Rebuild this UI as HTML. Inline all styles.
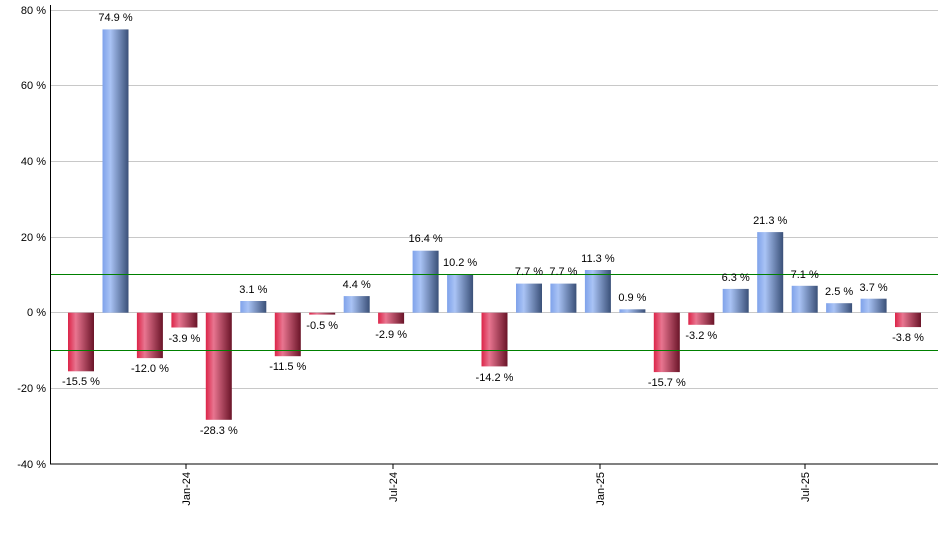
<!DOCTYPE html>
<html><head><style>body{margin:0;background:#fff}svg{display:block;font-family:"Liberation Sans",sans-serif}</style></head><body>
<svg width="940" height="550" xmlns="http://www.w3.org/2000/svg">
<defs>
<linearGradient id="b" x1="0" x2="1" y1="0" y2="0"><stop offset="0" stop-color="#7fa2ea"/><stop offset="0.3" stop-color="#a9c3f5"/><stop offset="1" stop-color="#3a5078"/></linearGradient>
<linearGradient id="r" x1="0" x2="1" y1="0" y2="0"><stop offset="0" stop-color="#dc2448"/><stop offset="0.3" stop-color="#e87590"/><stop offset="1" stop-color="#6a1428"/></linearGradient>
</defs>
<g stroke="#c8c8c8" stroke-width="1">
<line x1="50" x2="938" y1="10.5" y2="10.5"/><line x1="50" x2="938" y1="85.5" y2="85.5"/><line x1="50" x2="938" y1="161.5" y2="161.5"/><line x1="50" x2="938" y1="237.5" y2="237.5"/><line x1="50" x2="938" y1="312.5" y2="312.5"/><line x1="50" x2="938" y1="388.5" y2="388.5"/>
</g>
<g font-size="11" fill="#000" text-anchor="end">
<text x="46" y="14">80 %</text><text x="46" y="89">60 %</text><text x="46" y="165">40 %</text><text x="46" y="241">20 %</text><text x="46" y="316">0 %</text><text x="46" y="392">-20 %</text><text x="46" y="468">-40 %</text>
</g>
<g stroke="#999" stroke-width="1" fill="none">
</g>
<g>
<rect x="68" y="312.7" width="26" height="58.6" fill="url(#r)"/>
<rect x="102.5" y="29.4" width="26" height="283.3" fill="url(#b)"/>
<rect x="136.9" y="312.7" width="26" height="45.4" fill="url(#r)"/>
<rect x="171.4" y="312.7" width="26" height="14.8" fill="url(#r)"/>
<rect x="205.8" y="312.7" width="26" height="107.1" fill="url(#r)"/>
<rect x="240.3" y="301" width="26" height="11.7" fill="url(#b)"/>
<rect x="274.8" y="312.7" width="26" height="43.5" fill="url(#r)"/>
<rect x="309.2" y="312.7" width="26" height="1.9" fill="url(#r)"/>
<rect x="343.7" y="296.1" width="26" height="16.6" fill="url(#b)"/>
<rect x="378.1" y="312.7" width="26" height="11" fill="url(#r)"/>
<rect x="412.6" y="250.7" width="26" height="62" fill="url(#b)"/>
<rect x="447.1" y="274.1" width="26" height="38.6" fill="url(#b)"/>
<rect x="481.5" y="312.7" width="26" height="53.7" fill="url(#r)"/>
<rect x="516" y="283.6" width="26" height="29.1" fill="url(#b)"/>
<rect x="550.4" y="283.6" width="26" height="29.1" fill="url(#b)"/>
<rect x="584.9" y="270" width="26" height="42.7" fill="url(#b)"/>
<rect x="619.4" y="309.3" width="26" height="3.4" fill="url(#b)"/>
<rect x="653.8" y="312.7" width="26" height="59.4" fill="url(#r)"/>
<rect x="688.3" y="312.7" width="26" height="12.1" fill="url(#r)"/>
<rect x="722.7" y="288.9" width="26" height="23.8" fill="url(#b)"/>
<rect x="757.2" y="232.1" width="26" height="80.6" fill="url(#b)"/>
<rect x="791.7" y="285.8" width="26" height="26.9" fill="url(#b)"/>
<rect x="826.1" y="303.2" width="26" height="9.5" fill="url(#b)"/>
<rect x="860.6" y="298.7" width="26" height="14" fill="url(#b)"/>
<rect x="895" y="312.7" width="26" height="14.4" fill="url(#r)"/>
</g>
<line x1="50" x2="938" y1="274.5" y2="274.5" stroke="#008000"/>
<line x1="50" x2="938" y1="350.5" y2="350.5" stroke="#008000"/>
<g font-size="11" fill="#000" text-anchor="middle">
<text x="81" y="385">-15.5 %</text>
<text x="115.5" y="21">74.9 %</text>
<text x="149.9" y="372">-12.0 %</text>
<text x="184.4" y="342">-3.9 %</text>
<text x="218.8" y="434">-28.3 %</text>
<text x="253.3" y="293">3.1 %</text>
<text x="287.8" y="370">-11.5 %</text>
<text x="322.2" y="329">-0.5 %</text>
<text x="356.7" y="288">4.4 %</text>
<text x="391.1" y="338">-2.9 %</text>
<text x="425.6" y="242">16.4 %</text>
<text x="460.1" y="266">10.2 %</text>
<text x="494.5" y="381">-14.2 %</text>
<text x="529" y="275">7.7 %</text>
<text x="563.4" y="275">7.7 %</text>
<text x="597.9" y="262">11.3 %</text>
<text x="632.4" y="301">0.9 %</text>
<text x="666.8" y="386">-15.7 %</text>
<text x="701.3" y="339">-3.2 %</text>
<text x="735.7" y="281">6.3 %</text>
<text x="770.2" y="224">21.3 %</text>
<text x="804.7" y="278">7.1 %</text>
<text x="839.1" y="295">2.5 %</text>
<text x="873.6" y="291">3.7 %</text>
<text x="908" y="341">-3.8 %</text>
</g>
<line x1="50.5" x2="50.5" y1="5" y2="464" stroke="#000"/>
<line x1="50" x2="938" y1="464" y2="464" stroke="#000"/>
<g stroke="#000"><line x1="186" x2="186" y1="464" y2="469"/><line x1="393" x2="393" y1="464" y2="469"/><line x1="600" x2="600" y1="464" y2="469"/><line x1="805" x2="805" y1="464" y2="469"/></g>
<g font-size="11" fill="#000" text-anchor="end">
<text transform="translate(190,472) rotate(-90)">Jan-24</text>
<text transform="translate(397,472) rotate(-90)">Jul-24</text>
<text transform="translate(604,472) rotate(-90)">Jan-25</text>
<text transform="translate(809,472) rotate(-90)">Jul-25</text>
</g>
</svg>
</body></html>
